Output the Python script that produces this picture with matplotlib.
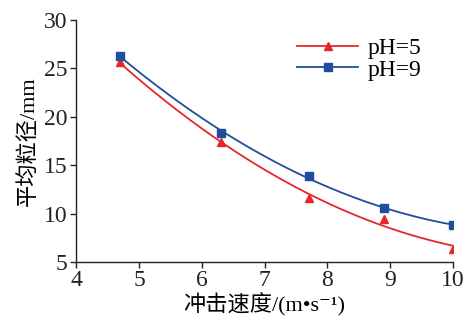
import matplotlib
matplotlib.use("Agg")
import matplotlib.pyplot as plt
import numpy as np

plt.rcParams['font.family'] = ['Liberation Serif', 'Noto Sans CJK SC', 'DejaVu Serif']

# 冲击速度 / 平均粒径
speed = [4.7, 6.3, 7.7, 8.9, 10.0]
size_ph5 = [25.6, 17.4, 11.6, 9.4, 6.4]
size_ph9 = [26.3, 18.3, 13.9, 10.6, 8.8]
labels = ['pH=5', 'pH=9']

red = '#e8262a'
blue = '#1f4e9e'

fig = plt.figure(figsize=(4.7, 3.2), dpi=100)
ax = fig.add_axes([0.162, 0.181, 0.802, 0.757])

xs = np.linspace(min(speed), max(speed), 200)
for y, c, m, lab in [(size_ph5, red, '^', labels[0]), (size_ph9, blue, 's', labels[1])]:
    coef = np.polyfit(speed, y, 2)
    ax.plot(xs, np.polyval(coef, xs), color=c, lw=1.3)
    ax.plot(speed, y, linestyle='none', marker=m, color=c, ms=6)
    # legend handle: line with marker in the middle
    ax.plot([], [], color=c, lw=1.3, marker=m, ms=6, label=lab)

ax.set_xlim(4, 10)
ax.set_ylim(5, 30)
ax.set_xticks(range(4, 11))
ax.set_yticks(range(5, 31, 5))
ax.spines['top'].set_visible(False)
ax.spines['right'].set_visible(False)
ax.tick_params(direction='out', labelsize=17, length=4, width=1, colors='#222222', pad=2)
for s in ax.spines.values():
    s.set_linewidth(1)
    s.set_color('#222222')

ax.set_xlabel('冲击速度/(m•s⁻¹)', fontsize=16, labelpad=1)
ax.set_ylabel('平均粒径/mm', fontsize=16, labelpad=4)

ax.legend(loc='upper right', bbox_to_anchor=(0.96, 0.995), frameon=False,
          fontsize=17, handlelength=2.6, handletextpad=0.4, labelspacing=0.0,
          borderpad=0.2)

fig.savefig('out.png', dpi=100)
